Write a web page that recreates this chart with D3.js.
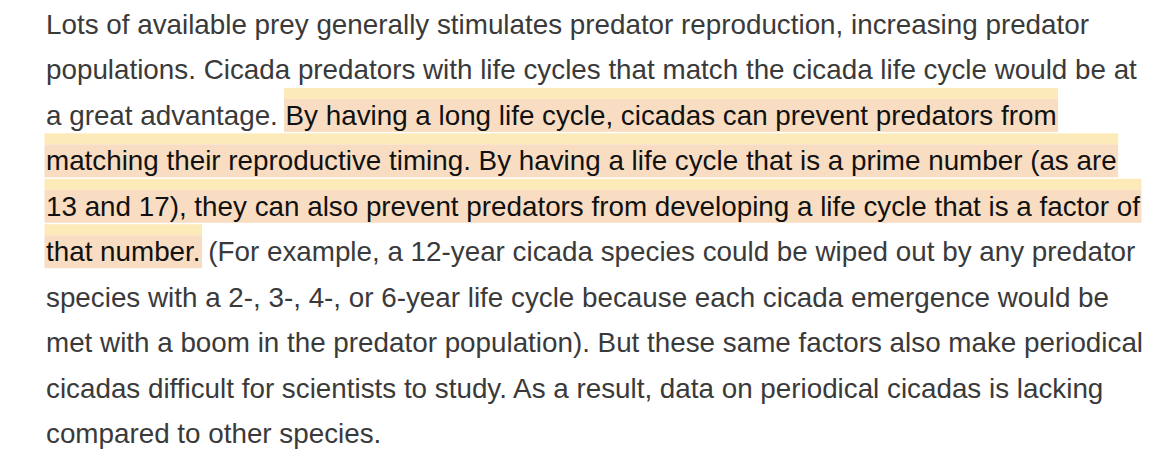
<!DOCTYPE html>
<html>
<head>
<meta charset="utf-8">
<script src="https://cdn.jsdelivr.net/npm/d3@7"></script>
<style>
  html, body { margin: 0; padding: 0; background: #ffffff; }
  svg { display: block; }
</style>
</head>
<body>
<svg id="chart" width="1170" height="462"></svg>
<script>
// Text lines (each line a list of segments; highlighted segments flagged)
const lineTexts = [
  "Lots of available prey generally stimulates predator reproduction, increasing predator",
  "populations. Cicada predators with life cycles that match the cicada life cycle would be at",
  "a great advantage. |By having a long life cycle, cicadas can prevent predators from",
  "|matching their reproductive timing. By having a life cycle that is a prime number (as are",
  "|13 and 17), they can also prevent predators from developing a life cycle that is a factor of",
  "|that number.| (For example, a 12-year cicada species could be wiped out by any predator",
  "species with a 2-, 3-, 4-, or 6-year life cycle because each cicada emergence would be",
  "met with a boom in the predator population). But these same factors also make periodical",
  "cicadas difficult for scientists to study. As a result, data on periodical cicadas is lacking",
  "compared to other species."
];
// Segments separated by "|" alternate between normal and highlighted text
const highlightedFlags = [false, true, false];

const lines = lineTexts.map((t, i) => ({
  index: i,
  segments: t.split("|").map((s, k) => ({ text: s, hl: highlightedFlags[k] })).filter(s => s.text.length)
}));

const svg = d3.select("#chart");
const y = d3.scaleLinear().domain([0, lines.length - 1]).range([34, 443]);
const left = 46;

const hlLayer = svg.append("g");
const textLayer = svg.append("g")
  .attr("font-family", "'Liberation Sans', Arial, Helvetica, sans-serif")
  .attr("font-size", 27.8);

const texts = textLayer.selectAll("text").data(lines).join("text")
  .attr("x", left)
  .attr("y", d => y(d.index))
  .style("white-space", "pre");

texts.selectAll("tspan").data(d => d.segments).join("tspan")
  .attr("fill", d => d.hl ? "#111111" : "#3a3a3a")
  .text(d => d.text);

// Highlight boxes measured from rendered text
texts.each(function(d) {
  const base = y(d.index);
  d3.select(this).selectAll("tspan").each(function(s) {
    if (!s.hl) return;
    const x0 = this.getStartPositionOfChar(0).x;
    const w = this.getComputedTextLength();
    hlLayer.append("rect").attr("x", x0 - 1.5).attr("y", base - 37)
      .attr("width", w + 3).attr("height", 11).attr("fill", "#fdeab9");
    hlLayer.append("rect").attr("x", x0 - 1.5).attr("y", base - 26)
      .attr("width", w + 3).attr("height", 33).attr("fill", "#f8ddc3");
  });
});
</script>
</body>
</html>
